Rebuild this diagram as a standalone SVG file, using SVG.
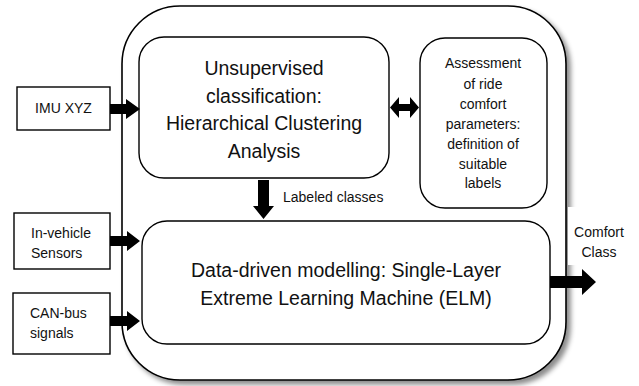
<svg xmlns="http://www.w3.org/2000/svg" width="639" height="386" viewBox="0 0 639 386">
<defs>
<filter id="sh" x="-5%" y="-5%" width="115%" height="115%">
<feDropShadow dx="4" dy="4" stdDeviation="2.5" flood-color="#000" flood-opacity="0.45"/>
</filter>
</defs>
<style>
.box{fill:#fff;stroke:#000;stroke-width:1.4}
.outer{fill:#fff;stroke:#000;stroke-width:1.6}
.big{font-family:"Liberation Sans",Arial,sans-serif;font-size:19.5px;text-anchor:middle;fill:#111}
.sm{font-family:"Liberation Sans",Arial,sans-serif;font-size:14px;fill:#111}
.mid{text-anchor:middle}
.arr{fill:#000;stroke:none}
</style>
<rect width="639" height="386" fill="#fff"/>
<g id="outer">
<rect class="outer" x="122" y="6" width="444" height="374" rx="58" ry="58" filter="url(#sh)"/>
<rect x="568" y="207" width="66" height="58" fill="#fff"/>
</g>
<g id="imu">
<rect class="box" x="17" y="87" width="93" height="43"/>
<text class="sm mid" x="63.5" y="113">IMU XYZ</text>
</g>
<g id="invehicle">
<rect class="box" x="14" y="213" width="96" height="56"/>
<text class="sm" x="31" y="238">In-vehicle</text>
<text class="sm" x="31" y="258">Sensors</text>
</g>
<g id="canbus">
<rect class="box" x="13" y="293" width="97" height="61"/>
<text class="sm" x="30" y="318">CAN-bus</text>
<text class="sm" x="30" y="338">signals</text>
</g>
<g id="unsupervised">
<rect class="box" x="139" y="37" width="250" height="141" rx="25" ry="25"/>
<text class="big" x="264" y="75">Unsupervised</text>
<text class="big" x="264" y="102.5">classification:</text>
<text class="big" x="264" y="130">Hierarchical Clustering</text>
<text class="big" x="264" y="157.5">Analysis</text>
</g>
<g id="assessment">
<rect class="box" x="420" y="38" width="127" height="170" rx="25" ry="25"/>
<text class="sm mid" x="483" y="68">Assessment</text>
<text class="sm mid" x="483" y="89">of ride</text>
<text class="sm mid" x="483" y="109">comfort</text>
<text class="sm mid" x="483" y="129">parameters:</text>
<text class="sm mid" x="483" y="149">definition of</text>
<text class="sm mid" x="483" y="169">suitable</text>
<text class="sm mid" x="483" y="188">labels</text>
</g>
<g id="elm">
<rect class="box" x="142" y="221" width="408" height="123" rx="25" ry="25"/>
<text class="big" x="346" y="277">Data-driven modelling: Single-Layer</text>
<text class="big" x="346" y="305">Extreme Learning Machine (ELM)</text>
</g>
<g id="output-label">
<text class="sm mid" x="599" y="237">Comfort</text>
<text class="sm mid" x="599" y="257">Class</text>
</g>
<g id="connectors">
<polygon class="arr" points="110,104 126,104 126,99 140,109 126,119 126,114 110,114"/>
<polygon class="arr" points="110,236 127,236 127,231 140,241 127,251 127,246 110,246"/>
<polygon class="arr" points="110,316 127,316 127,311 140,321 127,331 127,326 110,326"/>
<polygon class="arr" points="390,107.5 399,97 399,104 410,104 410,97 419,107.5 410,118 410,111 399,111 399,118"/>
<polygon class="arr" points="258,180 269,180 269,206 274,206 263.5,219 253,206 258,206"/>
<text class="sm" x="283" y="202">Labeled classes</text>
<polygon class="arr" points="550,276 582,276 582,269 596,282 582,295 582,288 550,288"/>
</g>
</svg>
